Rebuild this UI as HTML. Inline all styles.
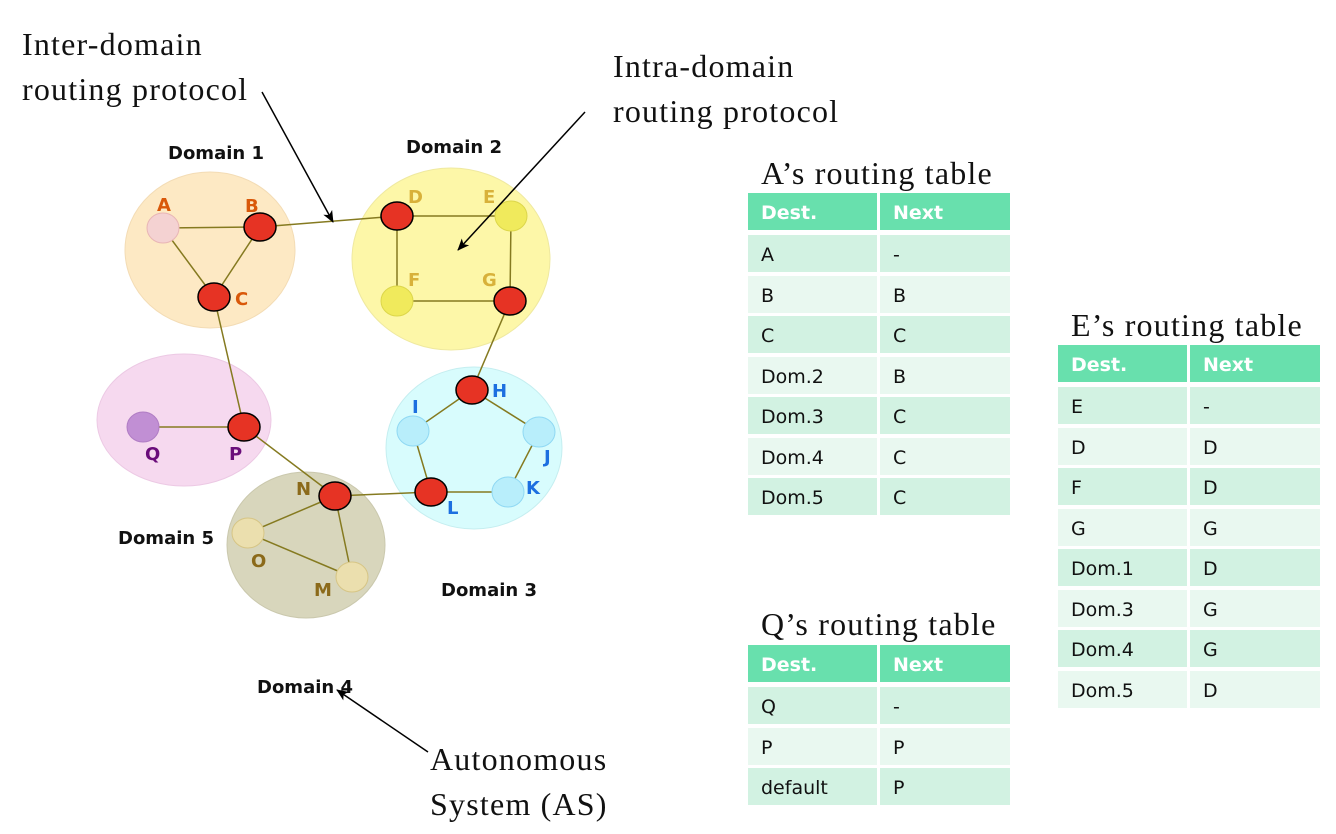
<!DOCTYPE html>
<html><head><meta charset="utf-8"><style>
body{margin:0;width:1336px;height:834px;background:#fff;position:relative;overflow:hidden;font-family:"DejaVu Sans","Liberation Sans",sans-serif}
.s{position:absolute;font-family:"Liberation Serif",serif;font-size:32px;letter-spacing:1.2px;color:#111;line-height:1}
.c{position:absolute;height:37px;line-height:41px;font-size:19px;color:#111;padding-left:13px;box-sizing:border-box}
.h{background:#68e0ad;color:#fff;font-weight:bold}
.o{background:#d2f2e2}.e{background:#e9f8f0}
</style></head><body>
<svg width="1336" height="834" style="position:absolute;left:0;top:0">
<defs><marker id="ar" markerWidth="12" markerHeight="10" refX="11" refY="5" orient="auto" markerUnits="userSpaceOnUse"><path d="M0,0 L12,5 L0,10 L3,5 z" fill="#000"/></marker></defs>
<ellipse cx="210" cy="250" rx="85" ry="78" fill="#fde9c4" stroke="#f3dcb5"/>
<ellipse cx="451" cy="259" rx="99" ry="91" fill="#fdf7a8" stroke="#efe9a0"/>
<ellipse cx="474" cy="448" rx="88" ry="81" fill="#d8fcfd" stroke="#c5eef0"/>
<ellipse cx="184" cy="420" rx="87" ry="66" fill="#f6d9ef" stroke="#ecc9e4"/>
<ellipse cx="306" cy="545" rx="79" ry="73" fill="#d8d6bc" stroke="#cac8ad"/>
<g stroke="#857a20" stroke-width="1.5" fill="none">
<line x1="163" y1="228" x2="260" y2="227"/><line x1="163" y1="228" x2="214" y2="297"/><line x1="260" y1="227" x2="214" y2="297"/>
<line x1="260" y1="227" x2="397" y2="216"/>
<polyline points="397,216 511,216 510,301 397,301 397,216"/>
<line x1="510" y1="301" x2="472" y2="390"/>
<polyline points="472,390 539,432 508,492 431,492 413,431 472,390"/>
<line x1="214" y1="297" x2="244" y2="427"/><line x1="143" y1="427" x2="244" y2="427"/>
<line x1="244" y1="427" x2="335" y2="496"/><line x1="335" y1="496" x2="431" y2="492"/>
<line x1="335" y1="496" x2="248" y2="533"/><line x1="335" y1="496" x2="352" y2="577"/><line x1="248" y1="533" x2="352" y2="577"/>
</g>
<g>
<ellipse cx="163" cy="228" rx="16" ry="15" fill="#f4d2d2" stroke="#e8b5b5"/>
<ellipse cx="511" cy="216" rx="16" ry="15" fill="#f0ea5c" stroke="#dcd64a"/>
<ellipse cx="397" cy="301" rx="16" ry="15" fill="#f0ea5c" stroke="#dcd64a"/>
<ellipse cx="413" cy="431" rx="16" ry="15" fill="#b8eefb" stroke="#8fd8f3"/>
<ellipse cx="539" cy="432" rx="16" ry="15" fill="#b8eefb" stroke="#8fd8f3"/>
<ellipse cx="508" cy="492" rx="16" ry="15" fill="#b8eefb" stroke="#8fd8f3"/>
<ellipse cx="143" cy="427" rx="16" ry="15" fill="#c18fd4" stroke="#b07cc4"/>
<ellipse cx="248" cy="533" rx="16" ry="15" fill="#ebdfae" stroke="#d6c585"/>
<ellipse cx="352" cy="577" rx="16" ry="15" fill="#ebdfae" stroke="#d6c585"/>
</g>
<g fill="#e63324" stroke="#000" stroke-width="1.5">
<ellipse cx="260" cy="227" rx="16" ry="14"/><ellipse cx="214" cy="297" rx="16" ry="14"/>
<ellipse cx="397" cy="216" rx="16" ry="14"/><ellipse cx="510" cy="301" rx="16" ry="14"/>
<ellipse cx="472" cy="390" rx="16" ry="14"/><ellipse cx="431" cy="492" rx="16" ry="14"/>
<ellipse cx="244" cy="427" rx="16" ry="14"/><ellipse cx="335" cy="496" rx="16" ry="14"/>
</g>
<g font-family="DejaVu Sans,sans-serif" font-weight="bold" font-size="18">
<g fill="#d9580a"><text x="157" y="211">A</text><text x="245" y="212">B</text><text x="235" y="305">C</text></g>
<g fill="#d8b13a"><text x="408" y="203">D</text><text x="483" y="203">E</text><text x="408" y="286">F</text><text x="482" y="286">G</text></g>
<g fill="#1c6fe0"><text x="492" y="397">H</text><text x="412" y="413">I</text><text x="544" y="463">J</text><text x="526" y="494">K</text><text x="447" y="514">L</text></g>
<g fill="#6a0c7a"><text x="145" y="460">Q</text><text x="229" y="460">P</text></g>
<g fill="#8b6a1a"><text x="296" y="495">N</text><text x="251" y="567">O</text><text x="314" y="596">M</text></g>
<g fill="#111" font-size="18"><text x="168" y="159">Domain 1</text><text x="406" y="153">Domain 2</text><text x="441" y="596">Domain 3</text><text x="118" y="544">Domain 5</text><text x="257" y="693">Domain 4</text></g>
</g>
<g stroke="#000" stroke-width="1.5" marker-end="url(#ar)">
<line x1="262" y1="92" x2="333" y2="222"/>
<line x1="585" y1="112" x2="458" y2="250"/>
<line x1="428" y1="752" x2="337" y2="690"/>
</g>
</svg>
<div class="s" style="left:22px;top:28px">Inter-domain</div>
<div class="s" style="left:22px;top:73px">routing protocol</div>
<div class="s" style="left:613px;top:50px">Intra-domain</div>
<div class="s" style="left:613px;top:95px">routing protocol</div>
<div class="s" style="left:430px;top:743px">Autonomous</div>
<div class="s" style="left:430px;top:788px">System (AS)</div>
<div class="s" style="left:761px;top:157px">A’s routing table</div>
<div class="s" style="left:1071px;top:309px">E’s routing table</div>
<div class="s" style="left:761px;top:608px">Q’s routing table</div>

<div class="c h" style="left:748px;top:193px;width:129px">Dest.</div><div class="c h" style="left:880px;top:193px;width:130px">Next</div>
<div class="c o" style="left:748px;top:235px;width:129px">A</div><div class="c o" style="left:880px;top:235px;width:130px">-</div>
<div class="c e" style="left:748px;top:275.5px;width:129px">B</div><div class="c e" style="left:880px;top:275.5px;width:130px">B</div>
<div class="c o" style="left:748px;top:316px;width:129px">C</div><div class="c o" style="left:880px;top:316px;width:130px">C</div>
<div class="c e" style="left:748px;top:356.5px;width:129px">Dom.2</div><div class="c e" style="left:880px;top:356.5px;width:130px">B</div>
<div class="c o" style="left:748px;top:397px;width:129px">Dom.3</div><div class="c o" style="left:880px;top:397px;width:130px">C</div>
<div class="c e" style="left:748px;top:437.5px;width:129px">Dom.4</div><div class="c e" style="left:880px;top:437.5px;width:130px">C</div>
<div class="c o" style="left:748px;top:478px;width:129px">Dom.5</div><div class="c o" style="left:880px;top:478px;width:130px">C</div>

<div class="c h" style="left:1058px;top:345px;width:129px">Dest.</div><div class="c h" style="left:1190px;top:345px;width:130px">Next</div>
<div class="c o" style="left:1058px;top:387px;width:129px">E</div><div class="c o" style="left:1190px;top:387px;width:130px">-</div>
<div class="c e" style="left:1058px;top:427.5px;width:129px">D</div><div class="c e" style="left:1190px;top:427.5px;width:130px">D</div>
<div class="c o" style="left:1058px;top:468px;width:129px">F</div><div class="c o" style="left:1190px;top:468px;width:130px">D</div>
<div class="c e" style="left:1058px;top:508.5px;width:129px">G</div><div class="c e" style="left:1190px;top:508.5px;width:130px">G</div>
<div class="c o" style="left:1058px;top:549px;width:129px">Dom.1</div><div class="c o" style="left:1190px;top:549px;width:130px">D</div>
<div class="c e" style="left:1058px;top:589.5px;width:129px">Dom.3</div><div class="c e" style="left:1190px;top:589.5px;width:130px">G</div>
<div class="c o" style="left:1058px;top:630px;width:129px">Dom.4</div><div class="c o" style="left:1190px;top:630px;width:130px">G</div>
<div class="c e" style="left:1058px;top:670.5px;width:129px">Dom.5</div><div class="c e" style="left:1190px;top:670.5px;width:130px">D</div>

<div class="c h" style="left:748px;top:645px;width:129px">Dest.</div><div class="c h" style="left:880px;top:645px;width:130px">Next</div>
<div class="c o" style="left:748px;top:687px;width:129px">Q</div><div class="c o" style="left:880px;top:687px;width:130px">-</div>
<div class="c e" style="left:748px;top:727.5px;width:129px">P</div><div class="c e" style="left:880px;top:727.5px;width:130px">P</div>
<div class="c o" style="left:748px;top:768px;width:129px">default</div><div class="c o" style="left:880px;top:768px;width:130px">P</div>
</body></html>
